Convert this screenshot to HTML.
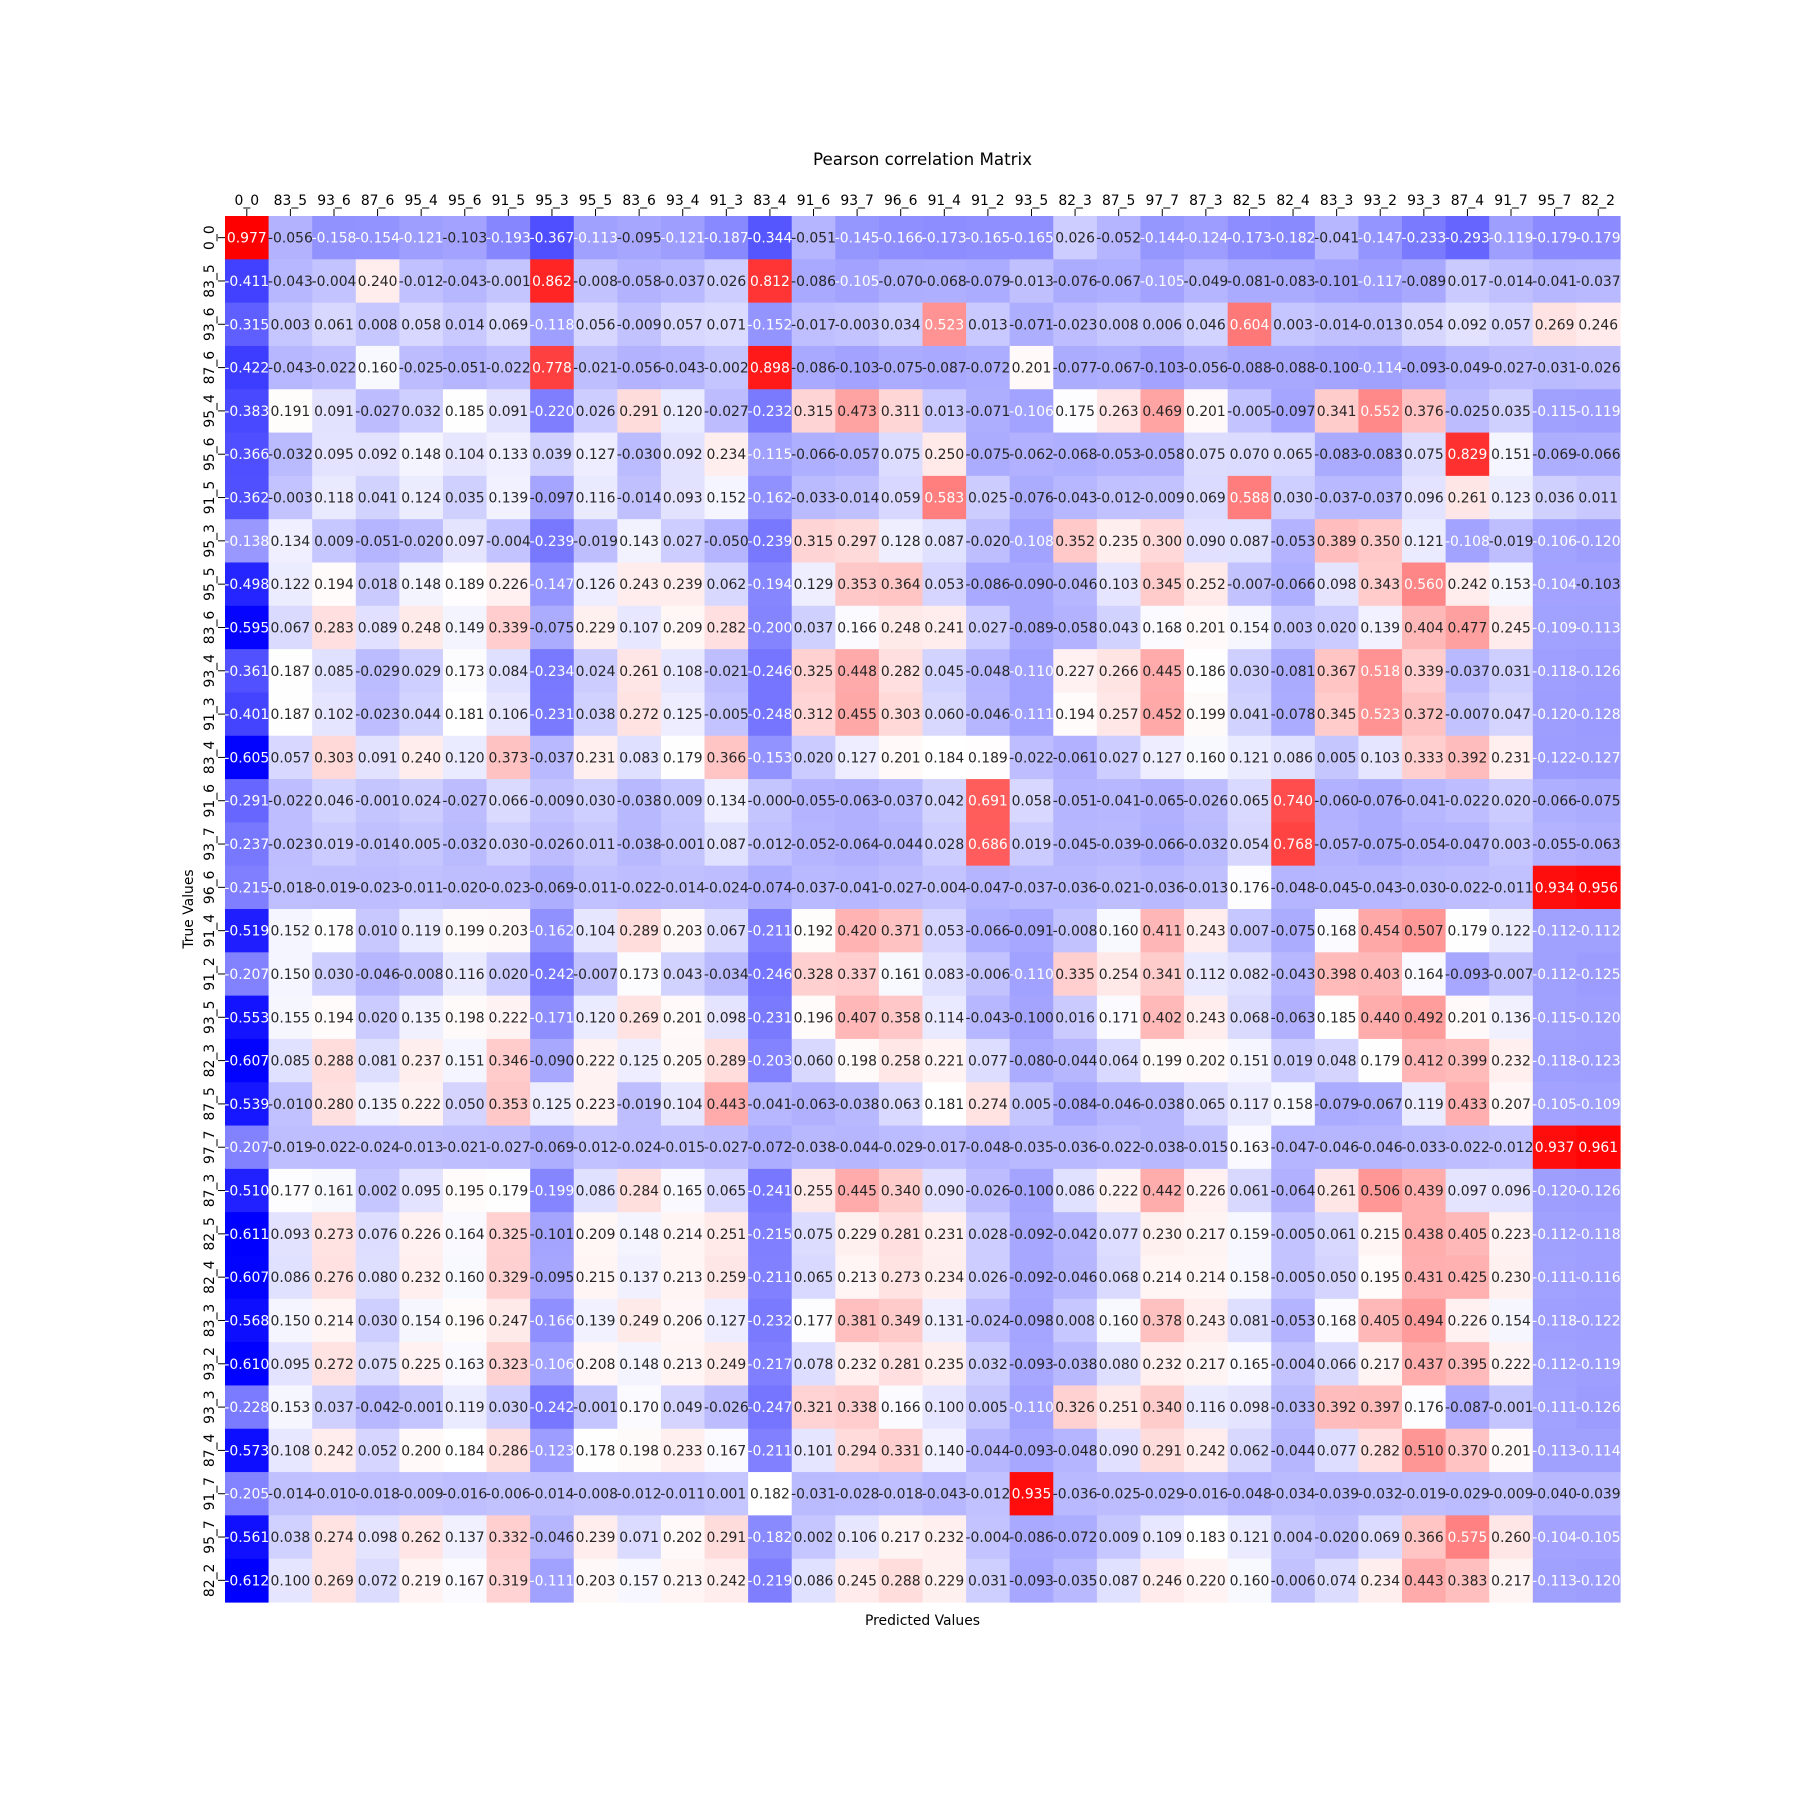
<!DOCTYPE html>
<html><head><meta charset="utf-8"><style>
html,body{margin:0;padding:0;background:#fff;}
svg{display:block;font-family:"DejaVu Sans","Liberation Sans",sans-serif;}
</style></head><body>
<svg id="chart" width="1800" height="1800" viewBox="0 0 1800 1800" xmlns="http://www.w3.org/2000/svg">
<rect width="1800" height="1800" fill="#fff"/>
<text x="922.5" y="165" font-size="16.7" text-anchor="middle" fill="#000">Pearson correlation Matrix</text>
<text x="922.5" y="1625" font-size="13.9" text-anchor="middle" fill="#000">Predicted Values</text>
<text transform="translate(193,909) rotate(-90)" font-size="13.9" text-anchor="middle" fill="#000">True Values</text>
<g id="cells"></g><g id="xt"></g><g id="yt"></g>
</svg>
<script>
const labels=["0_0","83_5","93_6","87_6","95_4","95_6","91_5","95_3","95_5","83_6","93_4","91_3","83_4","91_6","93_7","96_6","91_4","91_2","93_5","82_3","87_5","97_7","87_3","82_5","82_4","83_3","93_2","93_3","87_4","91_7","95_7","82_2"];
const r0=[0.977,-0.056,-0.158,-0.154,-0.121,-0.103,-0.193,-0.367,-0.113,-0.095,-0.121,-0.187,-0.344,-0.051,-0.145,-0.166,-0.173,-0.165,-0.165,0.026,-0.052,-0.144,-0.124,-0.173,-0.182,-0.041,-0.147,-0.233,-0.293,-0.119,-0.179,-0.179];
const r1=[-0.411,-0.043,-0.004,0.240,-0.012,-0.043,-0.001,0.862,-0.008,-0.058,-0.037,0.026,0.812,-0.086,-0.105,-0.070,-0.068,-0.079,-0.013,-0.076,-0.067,-0.105,-0.049,-0.081,-0.083,-0.101,-0.117,-0.089,0.017,-0.014,-0.041,-0.037];
const r2=[-0.315,0.003,0.061,0.008,0.058,0.014,0.069,-0.118,0.056,-0.009,0.057,0.071,-0.152,-0.017,-0.003,0.034,0.523,0.013,-0.071,-0.023,0.008,0.006,0.046,0.604,0.003,-0.014,-0.013,0.054,0.092,0.057,0.269,0.246];
const r3=[-0.422,-0.043,-0.022,0.160,-0.025,-0.051,-0.022,0.778,-0.021,-0.056,-0.043,-0.002,0.898,-0.086,-0.103,-0.075,-0.087,-0.072,0.201,-0.077,-0.067,-0.103,-0.056,-0.088,-0.088,-0.100,-0.114,-0.093,-0.049,-0.027,-0.031,-0.026];
const r4=[-0.383,0.191,0.091,-0.027,0.032,0.185,0.091,-0.220,0.026,0.291,0.120,-0.027,-0.232,0.315,0.473,0.311,0.013,-0.071,-0.106,0.175,0.263,0.469,0.201,-0.005,-0.097,0.341,0.552,0.376,-0.025,0.035,-0.115,-0.119];
const r5=[-0.366,-0.032,0.095,0.092,0.148,0.104,0.133,0.039,0.127,-0.030,0.092,0.234,-0.115,-0.066,-0.057,0.075,0.250,-0.075,-0.062,-0.068,-0.053,-0.058,0.075,0.070,0.065,-0.083,-0.083,0.075,0.829,0.151,-0.069,-0.066];
const r6=[-0.362,-0.003,0.118,0.041,0.124,0.035,0.139,-0.097,0.116,-0.014,0.093,0.152,-0.162,-0.033,-0.014,0.059,0.583,0.025,-0.076,-0.043,-0.012,-0.009,0.069,0.588,0.030,-0.037,-0.037,0.096,0.261,0.123,0.036,0.011];
const r7=[-0.138,0.134,0.009,-0.051,-0.020,0.097,-0.004,-0.239,-0.019,0.143,0.027,-0.050,-0.239,0.315,0.297,0.128,0.087,-0.020,-0.108,0.352,0.235,0.300,0.090,0.087,-0.053,0.389,0.350,0.121,-0.108,-0.019,-0.106,-0.120];
const r8=[-0.498,0.122,0.194,0.018,0.148,0.189,0.226,-0.147,0.126,0.243,0.239,0.062,-0.194,0.129,0.353,0.364,0.053,-0.086,-0.090,-0.046,0.103,0.345,0.252,-0.007,-0.066,0.098,0.343,0.560,0.242,0.153,-0.104,-0.103];
const r9=[-0.595,0.067,0.283,0.089,0.248,0.149,0.339,-0.075,0.229,0.107,0.209,0.282,-0.200,0.037,0.166,0.248,0.241,0.027,-0.089,-0.058,0.043,0.168,0.201,0.154,0.003,0.020,0.139,0.404,0.477,0.245,-0.109,-0.113];
const r10=[-0.361,0.187,0.085,-0.029,0.029,0.173,0.084,-0.234,0.024,0.261,0.108,-0.021,-0.246,0.325,0.448,0.282,0.045,-0.048,-0.110,0.227,0.266,0.445,0.186,0.030,-0.081,0.367,0.518,0.339,-0.037,0.031,-0.118,-0.126];
const r11=[-0.401,0.187,0.102,-0.023,0.044,0.181,0.106,-0.231,0.038,0.272,0.125,-0.005,-0.248,0.312,0.455,0.303,0.060,-0.046,-0.111,0.194,0.257,0.452,0.199,0.041,-0.078,0.345,0.523,0.372,-0.007,0.047,-0.120,-0.128];
const r12=[-0.605,0.057,0.303,0.091,0.240,0.120,0.373,-0.037,0.231,0.083,0.179,0.366,-0.153,0.020,0.127,0.201,0.184,0.189,-0.022,-0.061,0.027,0.127,0.160,0.121,0.086,0.005,0.103,0.333,0.392,0.231,-0.122,-0.127];
const r13=[-0.291,-0.022,0.046,-0.001,0.024,-0.027,0.066,-0.009,0.030,-0.038,0.009,0.134,-0.0,-0.055,-0.063,-0.037,0.042,0.691,0.058,-0.051,-0.041,-0.065,-0.026,0.065,0.740,-0.060,-0.076,-0.041,-0.022,0.020,-0.066,-0.075];
const r14=[-0.237,-0.023,0.019,-0.014,0.005,-0.032,0.030,-0.026,0.011,-0.038,-0.001,0.087,-0.012,-0.052,-0.064,-0.044,0.028,0.686,0.019,-0.045,-0.039,-0.066,-0.032,0.054,0.768,-0.057,-0.075,-0.054,-0.047,0.003,-0.055,-0.063];
const r15=[-0.215,-0.018,-0.019,-0.023,-0.011,-0.020,-0.023,-0.069,-0.011,-0.022,-0.014,-0.024,-0.074,-0.037,-0.041,-0.027,-0.004,-0.047,-0.037,-0.036,-0.021,-0.036,-0.013,0.176,-0.048,-0.045,-0.043,-0.030,-0.022,-0.011,0.934,0.956];
const r16=[-0.519,0.152,0.178,0.010,0.119,0.199,0.203,-0.162,0.104,0.289,0.203,0.067,-0.211,0.192,0.420,0.371,0.053,-0.066,-0.091,-0.008,0.160,0.411,0.243,0.007,-0.075,0.168,0.454,0.507,0.179,0.122,-0.112,-0.112];
const r17=[-0.207,0.150,0.030,-0.046,-0.008,0.116,0.020,-0.242,-0.007,0.173,0.043,-0.034,-0.246,0.328,0.337,0.161,0.083,-0.006,-0.110,0.335,0.254,0.341,0.112,0.082,-0.043,0.398,0.403,0.164,-0.093,-0.007,-0.112,-0.125];
const r18=[-0.553,0.155,0.194,0.020,0.135,0.198,0.222,-0.171,0.120,0.269,0.201,0.098,-0.231,0.196,0.407,0.358,0.114,-0.043,-0.100,0.016,0.171,0.402,0.243,0.068,-0.063,0.185,0.440,0.492,0.201,0.136,-0.115,-0.120];
const r19=[-0.607,0.085,0.288,0.081,0.237,0.151,0.346,-0.090,0.222,0.125,0.205,0.289,-0.203,0.060,0.198,0.258,0.221,0.077,-0.080,-0.044,0.064,0.199,0.202,0.151,0.019,0.048,0.179,0.412,0.399,0.232,-0.118,-0.123];
const r20=[-0.539,-0.010,0.280,0.135,0.222,0.050,0.353,0.125,0.223,-0.019,0.104,0.443,-0.041,-0.063,-0.038,0.063,0.181,0.274,0.005,-0.084,-0.046,-0.038,0.065,0.117,0.158,-0.079,-0.067,0.119,0.433,0.207,-0.105,-0.109];
const r21=[-0.207,-0.019,-0.022,-0.024,-0.013,-0.021,-0.027,-0.069,-0.012,-0.024,-0.015,-0.027,-0.072,-0.038,-0.044,-0.029,-0.017,-0.048,-0.035,-0.036,-0.022,-0.038,-0.015,0.163,-0.047,-0.046,-0.046,-0.033,-0.022,-0.012,0.937,0.961];
const r22=[-0.510,0.177,0.161,0.002,0.095,0.195,0.179,-0.199,0.086,0.284,0.165,0.065,-0.241,0.255,0.445,0.340,0.090,-0.026,-0.100,0.086,0.222,0.442,0.226,0.061,-0.064,0.261,0.506,0.439,0.097,0.096,-0.120,-0.126];
const r23=[-0.611,0.093,0.273,0.076,0.226,0.164,0.325,-0.101,0.209,0.148,0.214,0.251,-0.215,0.075,0.229,0.281,0.231,0.028,-0.092,-0.042,0.077,0.230,0.217,0.159,-0.005,0.061,0.215,0.438,0.405,0.223,-0.112,-0.118];
const r24=[-0.607,0.086,0.276,0.080,0.232,0.160,0.329,-0.095,0.215,0.137,0.213,0.259,-0.211,0.065,0.213,0.273,0.234,0.026,-0.092,-0.046,0.068,0.214,0.214,0.158,-0.005,0.050,0.195,0.431,0.425,0.230,-0.111,-0.116];
const r25=[-0.568,0.150,0.214,0.030,0.154,0.196,0.247,-0.166,0.139,0.249,0.206,0.127,-0.232,0.177,0.381,0.349,0.131,-0.024,-0.098,0.008,0.160,0.378,0.243,0.081,-0.053,0.168,0.405,0.494,0.226,0.154,-0.118,-0.122];
const r26=[-0.610,0.095,0.272,0.075,0.225,0.163,0.323,-0.106,0.208,0.148,0.213,0.249,-0.217,0.078,0.232,0.281,0.235,0.032,-0.093,-0.038,0.080,0.232,0.217,0.165,-0.004,0.066,0.217,0.437,0.395,0.222,-0.112,-0.119];
const r27=[-0.228,0.153,0.037,-0.042,-0.001,0.119,0.030,-0.242,-0.001,0.170,0.049,-0.026,-0.247,0.321,0.338,0.166,0.100,0.005,-0.110,0.326,0.251,0.340,0.116,0.098,-0.033,0.392,0.397,0.176,-0.087,-0.001,-0.111,-0.126];
const r28=[-0.573,0.108,0.242,0.052,0.200,0.184,0.286,-0.123,0.178,0.198,0.233,0.167,-0.211,0.101,0.294,0.331,0.140,-0.044,-0.093,-0.048,0.090,0.291,0.242,0.062,-0.044,0.077,0.282,0.510,0.370,0.201,-0.113,-0.114];
const r29=[-0.205,-0.014,-0.010,-0.018,-0.009,-0.016,-0.006,-0.014,-0.008,-0.012,-0.011,0.001,0.182,-0.031,-0.028,-0.018,-0.043,-0.012,0.935,-0.036,-0.025,-0.029,-0.016,-0.048,-0.034,-0.039,-0.032,-0.019,-0.029,-0.009,-0.040,-0.039];
const r30=[-0.561,0.038,0.274,0.098,0.262,0.137,0.332,-0.046,0.239,0.071,0.202,0.291,-0.182,0.002,0.106,0.217,0.232,-0.004,-0.086,-0.072,0.009,0.109,0.183,0.121,0.004,-0.020,0.069,0.366,0.575,0.260,-0.104,-0.105];
const r31=[-0.612,0.100,0.269,0.072,0.219,0.167,0.319,-0.111,0.203,0.157,0.213,0.242,-0.219,0.086,0.245,0.288,0.229,0.031,-0.093,-0.035,0.087,0.246,0.220,0.160,-0.006,0.074,0.234,0.443,0.383,0.217,-0.113,-0.120];
const matrix=[r0,r1,r2,r3,r4,r5,r6,r7,r8,r9,r10,r11,r12,r13,r14,r15,r16,r17,r18,r19,r20,r21,r22,r23,r24,r25,r26,r27,r28,r29,r30,r31];

const NS="http://www.w3.org/2000/svg";
const L=225,T=216,W=1395,H=1386;
const n=labels.length, cw=W/n, ch=H/n;
const xPos=i=>L+i*cw, yPos=j=>T+j*ch;
const flat=matrix.flat();
const vmin=Math.min(...flat), vmax=Math.max(...flat);
function norm(v){let t=(v-vmin)/(vmax-vmin);return Math.max(0,Math.min(1,t));}
function bwr(t){
  let r,g,b;
  if(t<0.5){const s=t/0.5;r=s;g=s;b=1;}else{const s=(t-0.5)/0.5;r=1;g=1-s;b=1-s;}
  return [r,g,b];
}
function fmt(v){const s=Math.abs(v).toFixed(3);return (v<0||Object.is(v,-0))?'-'+s:s;}
const cells=document.getElementById('cells');
matrix.forEach((row,j)=>{
  row.forEach((v,i)=>{
    const t=norm(v);
    const [r,g,b]=bwr(t);
    const rect=document.createElementNS(NS,'rect');
    
    
    rect.setAttribute('x',xPos(i));rect.setAttribute('y',yPos(j));
    rect.setAttribute('width',cw+0.6);rect.setAttribute('height',ch+0.6);
    rect.setAttribute('fill',`rgb(${Math.round(r*255)},${Math.round(g*255)},${Math.round(b*255)})`);
    cells.appendChild(rect);
    const dark=(t<0.3203||t>0.709);
    const tx=document.createElementNS(NS,'text');
    
    
    tx.setAttribute('x',xPos(i)+cw/2);tx.setAttribute('y',yPos(j)+ch/2+5);
    tx.setAttribute('font-size','13.9');tx.setAttribute('text-anchor','middle');
    tx.setAttribute('fill',dark?'#ffffff':'#262626');
    tx.textContent=fmt(v);
    cells.appendChild(tx);
  });
});
const xt=document.getElementById('xt'), yt=document.getElementById('yt');
labels.forEach((lab,i)=>{
  const cx=xPos(i)+cw/2;
  const tk=document.createElementNS(NS,'line');
  
  
  tk.setAttribute('x1',cx);tk.setAttribute('x2',cx);tk.setAttribute('y1',T-7);tk.setAttribute('y2',T);
  tk.setAttribute('stroke','#000');tk.setAttribute('stroke-width','1');
  xt.appendChild(tk);
  const tx=document.createElementNS(NS,'text');
  
  
  tx.setAttribute('x',cx);tx.setAttribute('y',T-11);
  tx.setAttribute('font-size','13.9');tx.setAttribute('text-anchor','middle');
  tx.textContent=lab;xt.appendChild(tx);
  const cy=yPos(i)+ch/2;
  const tk2=document.createElementNS(NS,'line');
  
  
  tk2.setAttribute('x1',L-7);tk2.setAttribute('x2',L);tk2.setAttribute('y1',cy);tk2.setAttribute('y2',cy);
  tk2.setAttribute('stroke','#000');tk2.setAttribute('stroke-width','1');
  yt.appendChild(tk2);
  const ty=document.createElementNS(NS,'text');
  
  
  ty.setAttribute('transform',`translate(${L-11},${cy}) rotate(-90)`);
  ty.setAttribute('font-size','13.9');ty.setAttribute('text-anchor','middle');
  ty.textContent=lab;yt.appendChild(ty);
});
</script>
</body></html>
